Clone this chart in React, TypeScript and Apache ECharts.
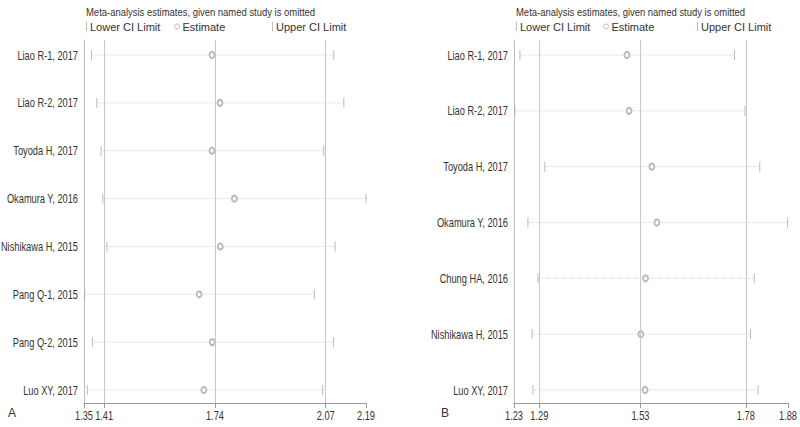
import React, { useEffect, useRef } from "react";
import * as echarts from "echarts";

const leftStudies = ["Liao R-1, 2017", "Liao R-2, 2017", "Toyoda H, 2017", "Okamura Y, 2016", "Nishikawa H, 2015", "Pang Q-1, 2015", "Pang Q-2, 2015", "Luo XY, 2017"];
const leftLower = [1.372, 1.388, 1.401, 1.406, 1.418, 1.352, 1.375, 1.36];
const leftEstimate = [1.731, 1.755, 1.731, 1.798, 1.756, 1.693, 1.732, 1.707];
const leftUpper = [2.094, 2.124, 2.064, 2.19, 2.098, 2.036, 2.093, 2.061];
const leftRefs = [1.41, 1.74, 2.07];
const leftTicks = [1.35, 1.41, 1.74, 2.07, 2.19];

const rightStudies = ["Liao R-1, 2017", "Liao R-2, 2017", "Toyoda H, 2017", "Okamura Y, 2016", "Chung HA, 2016", "Nishikawa H, 2015", "Luo XY, 2017"];
const rightLower = [1.244, 1.232, 1.303, 1.263, 1.287, 1.273, 1.275];
const rightEstimate = [1.498, 1.503, 1.557, 1.569, 1.542, 1.531, 1.541];
const rightUpper = [1.753, 1.778, 1.813, 1.879, 1.8, 1.791, 1.809];
const rightRefs = [1.29, 1.53, 1.78];
const rightTicks = [1.23, 1.29, 1.53, 1.78, 1.88];

const titleText = "Meta-analysis estimates, given named study is omitted";
const FONT = "'Liberation Sans', Arial, sans-serif";
const TEXT = "#333";
const LINE = "#c8c8c8";
const MARK = "#aaaaaa";
const SQUEEZE = 0.74;

function panel(idx: number, studies: string[], lower: number[], est: number[], upper: number[], refs: number[], ticks: number[]) {
  const n = studies.length;
  const step = 335 / (n - 1);
  const yMin = -15 / step;
  const yMax = n - 1 + 13 / step;
  const rows = studies.map((_, i) => i);
  const xMin = ticks[0];
  const xAxis = {
    type: "value",
    gridIndex: idx,
    min: ticks[0],
    max: ticks[ticks.length - 1],
    splitLine: { show: false },
    axisLine: { show: true, onZero: false, lineStyle: { color: "#999", width: 1 } },
    axisTick: { show: true, customValues: ticks, length: 5, lineStyle: { color: "#999" } },
    axisLabel: { show: false },
  };
  const yAxis = {
    type: "value",
    gridIndex: idx,
    inverse: true,
    min: yMin,
    max: yMax,
    splitLine: { show: false },
    axisLine: { show: true, onZero: false, lineStyle: { color: "#bbb", width: 1 } },
    axisTick: { show: false },
    axisLabel: { show: false },
  };
  const series: any[] = [
    {
      type: "custom",
      name: "labels" + idx,
      xAxisIndex: idx,
      yAxisIndex: idx,
      silent: true,
      clip: false,
      data: rows.map((i) => [xMin, i]),
      renderItem: (params: any, api: any) => {
        const p = api.coord([api.value(0), api.value(1)]);
        return {
          type: "text",
          x: p[0] - 6,
          y: p[1],
          scaleX: SQUEEZE,
          style: {
            text: studies[params.dataIndex],
            align: "right",
            verticalAlign: "middle",
            fontSize: 12.5,
            fontFamily: FONT,
            fill: TEXT,
          },
        };
      },
    },
    {
      type: "custom",
      name: "ticklabels" + idx,
      xAxisIndex: idx,
      yAxisIndex: idx,
      silent: true,
      clip: false,
      data: ticks.map((t) => [t, yMax]),
      renderItem: (params: any, api: any) => {
        const p = api.coord([api.value(0), api.value(1)]);
        return {
          type: "text",
          x: p[0],
          y: p[1] + 12,
          scaleX: SQUEEZE,
          style: {
            text: ticks[params.dataIndex].toFixed(2),
            align: "center",
            verticalAlign: "middle",
            fontSize: 12.5,
            fontFamily: FONT,
            fill: TEXT,
          },
        };
      },
    },
    {
      type: "custom",
      name: "range" + idx,
      xAxisIndex: idx,
      yAxisIndex: idx,
      silent: true,
      clip: false,
      data: rows.map((i) => [lower[i], upper[i], i]),
      renderItem: (params: any, api: any) => {
        const a = api.coord([api.value(0), api.value(2)]);
        const b = api.coord([api.value(1), api.value(2)]);
        return {
          type: "line",
          shape: { x1: a[0], y1: a[1], x2: b[0], y2: b[1] },
          style: { stroke: "#d4d4d4", lineWidth: 1, lineDash: [1, 1] },
        };
      },
      markLine: {
        silent: true,
        symbol: "none",
        label: { show: false },
        lineStyle: { color: LINE, type: "solid", width: 1 },
        data: refs.map((r) => ({ xAxis: r })),
      },
      z: 1,
    },
    {
      type: "scatter",
      name: "Lower CI Limit",
      xAxisIndex: idx,
      yAxisIndex: idx,
      symbol: "rect",
      symbolSize: [1, 10],
      itemStyle: { color: MARK },
      clip: false,
      data: rows.map((i) => [lower[i], i]),
      z: 3,
    },
    {
      type: "scatter",
      name: "Estimate",
      xAxisIndex: idx,
      yAxisIndex: idx,
      symbol: "emptyCircle",
      symbolSize: [5, 6],
      itemStyle: { color: MARK, borderWidth: 1 },
      clip: false,
      data: rows.map((i) => [est[i], i]),
      z: 3,
    },
    {
      type: "scatter",
      name: "Upper CI Limit",
      xAxisIndex: idx,
      yAxisIndex: idx,
      symbol: "rect",
      symbolSize: [1, 10],
      itemStyle: { color: MARK },
      clip: false,
      data: rows.map((i) => [upper[i], i]),
      z: 3,
    },
  ];
  return { xAxis, yAxis, series };
}

export default function App() {
  const ref = useRef<HTMLDivElement>(null);
  useEffect(() => {
    if (!ref.current) return;
    const chart = echarts.init(ref.current, undefined, { renderer: "svg" });
    const L = panel(0, leftStudies, leftLower, leftEstimate, leftUpper, leftRefs, leftTicks);
    const R = panel(1, rightStudies, rightLower, rightEstimate, rightUpper, rightRefs, rightTicks);
    const legendBase = (name: string, left: number, icon: string, w: number, h: number, circle: boolean) => ({
      data: [{ name, icon }],
      left,
      top: 21,
      selectedMode: false,
      itemWidth: w,
      itemHeight: h,
      itemGap: 0,
      padding: 0,
      textStyle: { fontSize: 11, color: TEXT, fontFamily: FONT, padding: [0, 0, 0, -2] },
      itemStyle: circle ? { color: "#fff", borderColor: MARK, borderWidth: 1 } : { color: MARK, borderWidth: 0 },
    });
    const titleEl = (left: number) => ({
      type: "text",
      x: left,
      y: 12,
      scaleX: 0.86,
      style: { text: titleText, fontSize: 11, fill: TEXT, fontFamily: FONT, verticalAlign: "middle", align: "left" },
    });
    chart.setOption({
      animation: false,
      backgroundColor: "#fff",
      legend: [
        legendBase("Lower CI Limit", 86, "rect", 1, 9, false),
        legendBase("Estimate", 174, "circle", 5, 5, true),
        legendBase("Upper CI Limit", 272, "rect", 1, 9, false),
        legendBase("Lower CI Limit", 516, "rect", 1, 9, false),
        legendBase("Estimate", 603, "circle", 5, 5, true),
        legendBase("Upper CI Limit", 697, "rect", 1, 9, false),
      ],
      grid: [
        { left: 84, right: 800 - 366, top: 40, bottom: 24, containLabel: false, outerBoundsMode: "none" },
        { left: 514, right: 800 - 788, top: 40, bottom: 24, containLabel: false, outerBoundsMode: "none" },
      ],
      xAxis: [L.xAxis, R.xAxis],
      yAxis: [L.yAxis, R.yAxis],
      series: [...L.series, ...R.series],
      graphic: [
        titleEl(86),
        titleEl(516),
        { type: "text", left: 8, top: 407, style: { text: "A", fontSize: 12, fill: TEXT, fontFamily: FONT } },
        { type: "text", left: 441, top: 407, style: { text: "B", fontSize: 12, fill: TEXT, fontFamily: FONT } },
      ],
    });
    return () => chart.dispose();
  }, []);
  return <div ref={ref} style={{ width: 800, height: 427, position: "absolute", left: 0, top: 0 }} />;
}
